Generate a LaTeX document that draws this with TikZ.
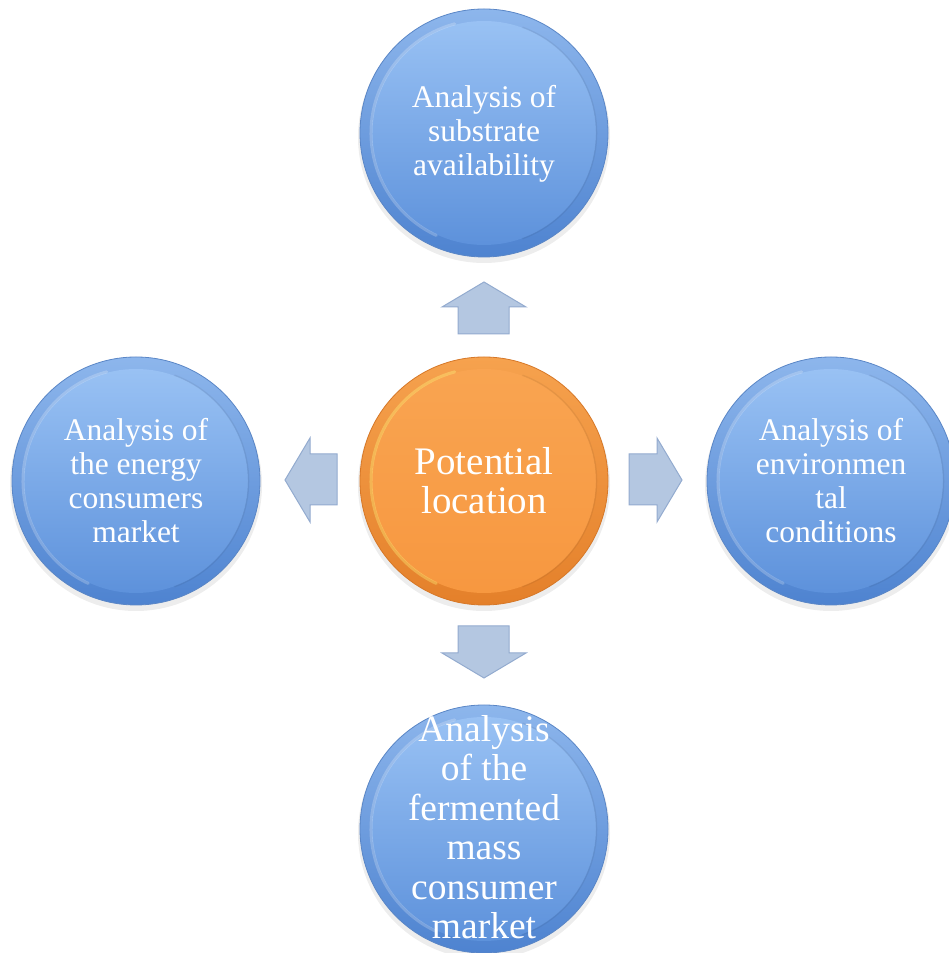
\documentclass[tikz,border=0pt]{standalone}
\usepackage{fontspec}
\setmainfont{Liberation Serif}
\definecolor{bOutT}{HTML}{8DB6EC}
\definecolor{bOutB}{HTML}{4E83D0}
\definecolor{bInT}{HTML}{9CC4F5}
\definecolor{bInB}{HTML}{5A8FDA}
\definecolor{bEdge}{HTML}{5A86C6}
\definecolor{oOutT}{HTML}{F6A24E}
\definecolor{oOutB}{HTML}{E4802A}
\definecolor{oInT}{HTML}{F9A552}
\definecolor{oInB}{HTML}{F7973F}
\definecolor{oEdge}{HTML}{D67828}
\definecolor{arFill}{HTML}{B4C7E1}
\definecolor{arEdge}{HTML}{93ABCF}
\begin{document}
\begin{tikzpicture}[x=1pt,y=1pt,
  shadowc/.style={fill=black, opacity=0.07},
  disc/.style={circle, minimum size=248pt, inner sep=0pt, line width=0.8pt},
  bluecirc/.style={disc, draw=bEdge, top color=bOutT, bottom color=bOutB,
    path picture={
      \shade[top color=bInT, bottom color=bInB] (path picture bounding box.center) circle (112pt);
      \draw[white, opacity=0.22, line width=3pt, line cap=round] ([shift={(105:113pt)}]path picture bounding box.center) arc (105:245:113pt);
      \draw[black, opacity=0.06, line width=1.5pt] ([shift={(-70:112.5pt)}]path picture bounding box.center) arc (-70:70:112.5pt);
    }},
  orangecirc/.style={disc, draw=oEdge, top color=oOutT, bottom color=oOutB,
    path picture={
      \shade[top color=oInT, bottom color=oInB] (path picture bounding box.center) circle (112pt);
      \draw[yellow!50!white, opacity=0.35, line width=3pt, line cap=round] ([shift={(105:113pt)}]path picture bounding box.center) arc (105:245:113pt);
      \draw[black, opacity=0.06, line width=1.5pt] ([shift={(-70:112.5pt)}]path picture bounding box.center) arc (-70:70:112.5pt);
    }},
  label/.style={text=white, align=center, inner sep=0pt},
  smalltext/.style={label, font=\fontsize{31.5}{34}\selectfont},
  blockarrow/.style={fill=arFill, draw=arEdge, line width=1pt, line join=miter}
]
\useasboundingbox (0,0) rectangle (948,953);
% shadows
\foreach \p in {(484,816),(484,468),(136,468),(831,468),(484,120)}
  \fill[shadowc] \p circle (126pt);

\node[bluecirc] (top) at (484,820) {};
\node[orangecirc] (center) at (484,472) {};
\node[bluecirc] (left) at (136,472) {};
\node[bluecirc] (right) at (831,472) {};
\node[bluecirc] (bottom) at (484,124) {};

\node[smalltext] (topt) at ([yshift=-1pt]top) {Analysis of\\substrate\\availability};
\node[label, font=\fontsize{39}{39}\selectfont] (centert) at (center) {Potential\\location};
\node[smalltext] (leftt) at (left) {Analysis of\\the energy\\consumers\\market};
\node[smalltext] (rightt) at (right) {Analysis of\\environmen\\tal\\conditions};
\node[label, font=\fontsize{37.5}{39.5}\selectfont] (bottomt) at ([yshift=2pt]bottom) {Analysis\\of the\\fermented\\mass\\consumer\\market};

% block arrows
\draw[blockarrow] (458,619) -- (458,646) -- (442,646) -- (484,671) -- (526,646) -- (509,646) -- (509,619) -- cycle;
\draw[blockarrow] (458,327) -- (458,300) -- (442,300) -- (484,275) -- (526,300) -- (509,300) -- (509,327) -- cycle;
\draw[blockarrow] (337,499) -- (310,499) -- (310,515) -- (285,473) -- (310,431) -- (310,448) -- (337,448) -- cycle;
\draw[blockarrow] (629,499) -- (657,499) -- (657,515) -- (682,473) -- (657,431) -- (657,448) -- (629,448) -- cycle;
\end{tikzpicture}
\end{document}
